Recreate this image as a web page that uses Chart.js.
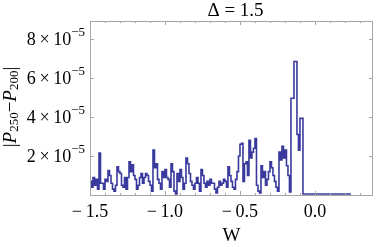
<!DOCTYPE html>
<html>
<head>
<meta charset="utf-8">
<script src="https://cdn.jsdelivr.net/npm/chart.js@4"></script>
<style>
  html, body { margin: 0; padding: 0; background: #fff; }
  #wrap { width: 382px; height: 247px; }
</style>
</head>
<body>
<div id="wrap"><canvas id="chart" width="382" height="247"></canvas></div>
<script>
// bins of |P250 - P200| (units of 1e-5), first bin starts at W = -1.5
const binStart = -1.5;
const binWidth = 0.01;
const diffValues = [
    0.7, 0.4, 0.9, 0.5, 0.8, 0.3, 2.15, 0.6, 0.6, 0.3,
    0.8, 0.7, 1.25, 1.0, 0.6, 0.3, 0.2, 0.5, 1.45, 1.2,
    1.1, 0.5, 0.4, 0.9, 0.3, 0.9, 1.7, 1.2, 1.55, 1.0,
    0.8, 0.3, 0.5, 0.9, 1.1, 0.6, 0.9, 1.1, 1.0, 0.7,
    0.5, 0.2, 2.3, 1.4, 1.6, 0.8, 0.6, 0.3, 1.2, 0.9,
    1.3, 0.9, 0.8, 0.4, 1.6, 1.2, 0.2, 0.05, 1.1, 0.7,
    1.3, 0.9, 0.3, 0.6, 1.9, 1.6, 1.1, 0.7, 0.5, 0.3,
    0.6, 0.9, 0.6, 0.2, 1.3, 1.0, 0.6, 0.4, 0.7, 0.5,
    0.8, 0.6, 0.6, 0.3, 0.1, 0.4, 0.7, 0.5, 0.6, 0.8,
    0.7, 0.4, 1.45, 1.0, 0.7, 0.4, 0.3, 0.8, 1.2, 2.0,
    2.6, 2.65, 0.7, 1.6, 1.7, 1.0, 2.8, 1.9, 2.2, 2.4,
    2.9, 0.5, 0.2, 0.1, 1.5, 0.9, 1.2, 0.5, 0.8, 1.2,
    1.7, 1.4, 1.0, 0.7, 0.4, 0.2, 2.2, 1.8, 2.5, 1.9,
    2.3, 1.5, 1.0, 0.15, 4.96, 4.96, 6.84, 6.84, 3.1, 2.3,
    3.93, 3.93,
    0.05, 0.05, 0.05, 0.05, 0.05, 0.05, 0.05, 0.05,
    0.05, 0.05, 0.05, 0.05, 0.05, 0.05, 0.05, 0.05,
    0.05, 0.05, 0.05, 0.05, 0.05, 0.05, 0.05, 0.05,
    0.05, 0.05, 0.05, 0.05, 0.05, 0.05, 0.05, 0.05
];
const xTicks = [-1.5, -1.0, -0.5, 0.0];
const xMinorTicks = [-1.4, -1.3, -1.2, -1.1, -0.9, -0.8, -0.7, -0.6, -0.4, -0.3, -0.2, -0.1, 0.1, 0.2, 0.3];
const yTicks = [2, 4, 6, 8];
const titleText = 'Δ = 1.5';
const xLabel = 'W';

const serif = "'Liberation Serif', 'Times New Roman', serif";
const lineColor = '#3a3a9e';
const frameColor = '#a6a6a6';

const points = diffValues.map((v, i) => ({ x: binStart + i * binWidth, y: v * 1e-5 }));
points.push({ x: binStart + diffValues.length * binWidth, y: diffValues[diffValues.length - 1] * 1e-5 });

function fmtX(v) {
    const s = Math.abs(v).toFixed(1);
    return v < -1e-9 ? '\u2212\u2009' + s : s;
}

const framePlugin = {
    id: 'frame',
    afterDraw(chart) {
        const c = chart.ctx;
        const a = chart.chartArea;
        const xs = chart.scales.x, ys = chart.scales.y;
        c.save();
        c.strokeStyle = frameColor;
        c.lineWidth = 1;
        c.strokeRect(a.left + 0.5, a.top + 0.5, a.right - a.left - 1, a.bottom - a.top);

        c.beginPath();
        xTicks.forEach(v => {
            const px = Math.round(xs.getPixelForValue(v)) + 0.5;
            c.moveTo(px, a.bottom); c.lineTo(px, a.bottom - 4);
            c.moveTo(px, a.top); c.lineTo(px, a.top + 4);
        });
        xMinorTicks.forEach(v => {
            const px = Math.round(xs.getPixelForValue(v)) + 0.5;
            c.moveTo(px, a.bottom); c.lineTo(px, a.bottom - 2);
            c.moveTo(px, a.top); c.lineTo(px, a.top + 2);
        });
        yTicks.forEach(v => {
            const py = Math.round(ys.getPixelForValue(v * 1e-5)) + 0.5;
            c.moveTo(a.left, py); c.lineTo(a.left + 4, py);
            c.moveTo(a.right, py); c.lineTo(a.right - 4, py);
        });
        c.stroke();

        // y tick labels with superscript exponent
        c.fillStyle = '#000';
        c.textBaseline = 'middle';
        yTicks.forEach(v => {
            const py = ys.getPixelForValue(v * 1e-5);
            c.font = '13px ' + serif;
            const sup = '\u22125';
            const supW = c.measureText(sup).width;
            const right = a.left - 5;
            c.textAlign = 'left';
            c.fillText(sup, right - supW, py - 6);
            c.font = '18px ' + serif;
            c.textAlign = 'right';
            c.fillText(v + '\u2009\u00d7\u200910', right - supW, py + 1);
        });

        // title
        c.font = '19px ' + serif;
        c.textAlign = 'center';
        c.fillText(titleText, (a.left + a.right) / 2 + 4, 11);

        // x axis label
        c.fillText(xLabel, (a.left + a.right) / 2, 236);

        // y axis label |P250 - P200|
        c.save();
        c.translate(11, 107);
        c.rotate(-Math.PI / 2);
        const parts = [
            { t: '|', f: '19px ' + serif, dy: 0 },
            { t: 'P', f: 'italic 19px ' + serif, dy: 0 },
            { t: '250', f: '13px ' + serif, dy: 4 },
            { t: '\u2212', f: '19px ' + serif, dy: 0 },
            { t: 'P', f: 'italic 19px ' + serif, dy: 0 },
            { t: '200', f: '13px ' + serif, dy: 4 },
            { t: '|', f: '19px ' + serif, dy: 0 }
        ];
        let total = 0;
        parts.forEach(p => { c.font = p.f; p.w = c.measureText(p.t).width; total += p.w; });
        let x0 = -total / 2;
        c.textAlign = 'left';
        parts.forEach(p => {
            c.font = p.f;
            c.fillText(p.t, x0, p.dy);
            x0 += p.w;
        });
        c.restore();
        c.restore();
    }
};

new Chart(document.getElementById('chart').getContext('2d'), {
    type: 'line',
    data: {
        datasets: [{
            data: points,
            stepped: 'before',
            borderColor: lineColor,
            borderWidth: 1.6,
            pointRadius: 0,
            fill: false
        }]
    },
    options: {
        responsive: false,
        animation: false,
        layout: { padding: { left: 0, right: 9, top: 21, bottom: 0 } },
        plugins: { legend: { display: false }, tooltip: { enabled: false } },
        scales: {
            x: {
                type: 'linear',
                min: -1.5,
                max: 0.387,
                grid: { display: false, drawTicks: false },
                border: { display: false },
                afterBuildTicks: s => { s.ticks = xTicks.map(v => ({ value: v })); },
                afterFit: s => { s.height = 52; },
                ticks: {
                    padding: 6,
                    color: '#000',
                    maxRotation: 0,
                    autoSkip: false,
                    font: { family: serif, size: 18 },
                    callback: v => fmtX(v)
                }
            },
            y: {
                min: 0,
                max: 8.92e-5,
                grid: { display: false, drawTicks: false },
                border: { display: false },
                afterFit: s => { s.width = 90; },
                ticks: { display: false }
            }
        }
    },
    plugins: [framePlugin]
});
</script>
</body>
</html>
